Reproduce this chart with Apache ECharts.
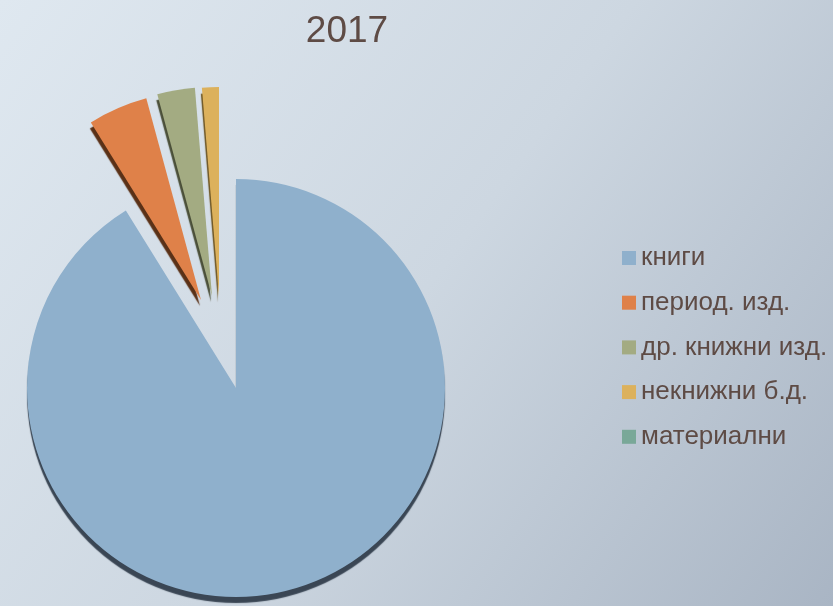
<!DOCTYPE html>
<html>
<head>
<meta charset="utf-8">
<script src="https://cdn.jsdelivr.net/npm/echarts@6/dist/echarts.min.js"></script>
<style>
html,body{margin:0;padding:0;}
#chart{width:833px;height:606px;}
</style>
</head>
<body>
<div id="chart"></div>
<script>
const title = "2017";
const categories = ["книги", "период. изд.", "др. книжни изд.", "некнижни б.д.", "материални"];
const values = [90.8, 4.6, 2.9, 1.3, 0];

const palette = ["#8fb0cc", "#df8149", "#a3ab82", "#dcb15c", "#79a898"];
const edgeColors = ["#3a4654", "#5a3117", "#4a4f38", "#6b5320", "#3c5a50"];
// explosion offset (px) of each slice from the pie centre
const explodeOffsets = [[0, 0], [-35, -88], [-24, -92], [-17, -92], [0, 0]];
const edgeShiftX = [0, -1, -1, -1, 0];
const pieCenter = [236, 388];
const pieRadius = 209;

const chart = echarts.init(document.getElementById('chart'), null, {renderer: 'canvas'});

const series = [];
categories.forEach((cat, i) => {
  if (!(values[i] > 0)) return;
  series.push({
    type: 'pie',
    name: cat,
    center: [pieCenter[0] + explodeOffsets[i][0], pieCenter[1] + explodeOffsets[i][1]],
    radius: pieRadius,
    startAngle: 90,
    clockwise: true,
    silent: true,
    legendHoverLink: false,
    avoidLabelOverlap: false,
    label: {show: false},
    labelLine: {show: false},
    emphasis: {disabled: true},
    z: 2 + i,
    data: categories.map((c, j) => ({
      name: c,
      value: values[j],
      itemStyle: j === i ? {
        color: palette[j],
        shadowColor: edgeColors[j],
        shadowBlur: 1,
        shadowOffsetX: edgeShiftX[j],
        shadowOffsetY: 6,
        borderWidth: 0
      } : {
        color: 'rgba(0,0,0,0)',
        borderWidth: 0,
        shadowBlur: 0,
        shadowColor: 'rgba(0,0,0,0)'
      }
    }))
  });
});

chart.setOption({
  animation: false,
  backgroundColor: {
    type: 'linear', x: 0, y: 0, x2: 1, y2: 1,
    colorStops: [
      {offset: 0, color: '#dfe8f0'},
      {offset: 0.5, color: '#cdd7e1'},
      {offset: 1, color: '#a9b5c4'}
    ]
  },
  title: {
    text: title,
    left: 342,
    top: 8,
    textAlign: 'center',
    textStyle: {
      fontFamily: 'Liberation Sans, Arial, sans-serif',
      fontSize: 37,
      fontWeight: 'normal',
      color: '#5e4b45'
    }
  },
  legend: {
    orient: 'vertical',
    left: 617,
    top: 240,
    itemWidth: 14,
    itemHeight: 14,
    itemGap: 18.7,
    icon: 'rect',
    selectedMode: false,
    textStyle: {
      fontFamily: 'Liberation Sans, Arial, sans-serif',
      fontSize: 26,
      lineHeight: 26,
      color: '#5e4b45'
    },
    data: categories.map((c, i) => ({
      name: c,
      itemStyle: {color: palette[i], shadowBlur: 0, shadowOffsetX: 0, shadowOffsetY: 0, shadowColor: 'rgba(0,0,0,0)', borderWidth: 0}
    }))
  },
  series: series
});
</script>
</body>
</html>
